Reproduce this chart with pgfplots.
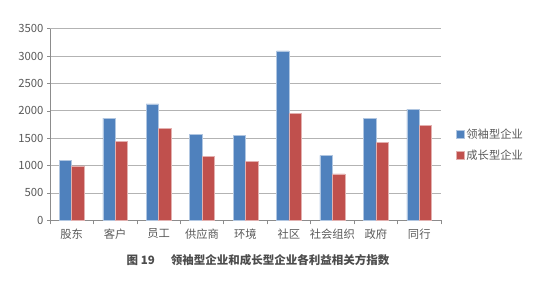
\documentclass[border=0pt]{standalone}
\usepackage{pgfplots}
\pgfplotsset{compat=1.18}
\usepackage{fontspec}
\setmainfont{Noto Sans CJK SC}
\definecolor{cblue}{HTML}{4F81BD}
\definecolor{cred}{HTML}{C0504D}
\definecolor{txt}{HTML}{595959}
\definecolor{gridc}{HTML}{B3B3B3}
\definecolor{axc}{HTML}{8C8C8C}
\begin{document}
\begin{tikzpicture}[x=1pt,y=1pt]
\useasboundingbox (-50,-60.7) rectangle (503,220.3);
\begin{axis}[
  at={(0,0)}, anchor=south west,
  scale only axis, width=391pt, height=191.6pt,
  ybar, bar width=12.4pt, ybar=0pt,
  xmin=-0.5, xmax=8.5, ymin=0, ymax=3500,
  ytick={0,500,...,3500},
  xtick={0,...,8},
  xticklabels={股东,客户,员工,供应商,环境,社区,社会组织,政府,同行},
  minor xtick={-0.5,0.5,...,8.5},
  major x tick style={draw=none},
  minor tick length=4pt,
  major tick length=3pt,
  tick align=outside,
  tick style={axc, line width=0.6pt},
  ymajorgrids, grid style={gridc, line width=0.8pt},
  axis x line*=bottom, axis y line*=left,
  axis line style={axc, line width=0.8pt, -},
  ticklabel style={font=\fontsize{11.3}{13}\selectfont, text=txt},
  /pgf/number format/assume math mode=true,
  /pgf/number format/1000 sep={},
  xticklabel style={yshift=-2pt},
  legend style={at={(1.03,0.395)}, anchor=west, draw=none, fill=none,
    font=\fontsize{11.3}{13}\selectfont, text=txt, row sep=6pt,
    /tikz/every even column/.append style={column sep=2pt}},
  legend cell align=left,
  legend image code/.code={\fill[#1] (0pt,-4pt) rectangle (8pt,4pt);},
]
\addplot[fill=cblue, draw=cblue!45!white, line width=0.5pt] coordinates {
 (0,1095) (1,1865) (2,2125) (3,1575) (4,1545) (5,3095) (6,1185) (7,1860) (8,2030)};
\addlegendentry{领袖型企业}
\addplot[fill=cred, draw=cred!45!white, line width=0.5pt] coordinates {
 (0,995) (1,1440) (2,1685) (3,1165) (4,1075) (5,1950) (6,848) (7,1420) (8,1730)};
\addlegendentry{成长型企业}
\end{axis}
\node[font=\bfseries\fontsize{11.5}{13}\selectfont, text=txt!85!black] at (208,-39.5) {图 19\hspace{1.4em}领袖型企业和成长型企业各利益相关方指数};
\end{tikzpicture}
\end{document}
